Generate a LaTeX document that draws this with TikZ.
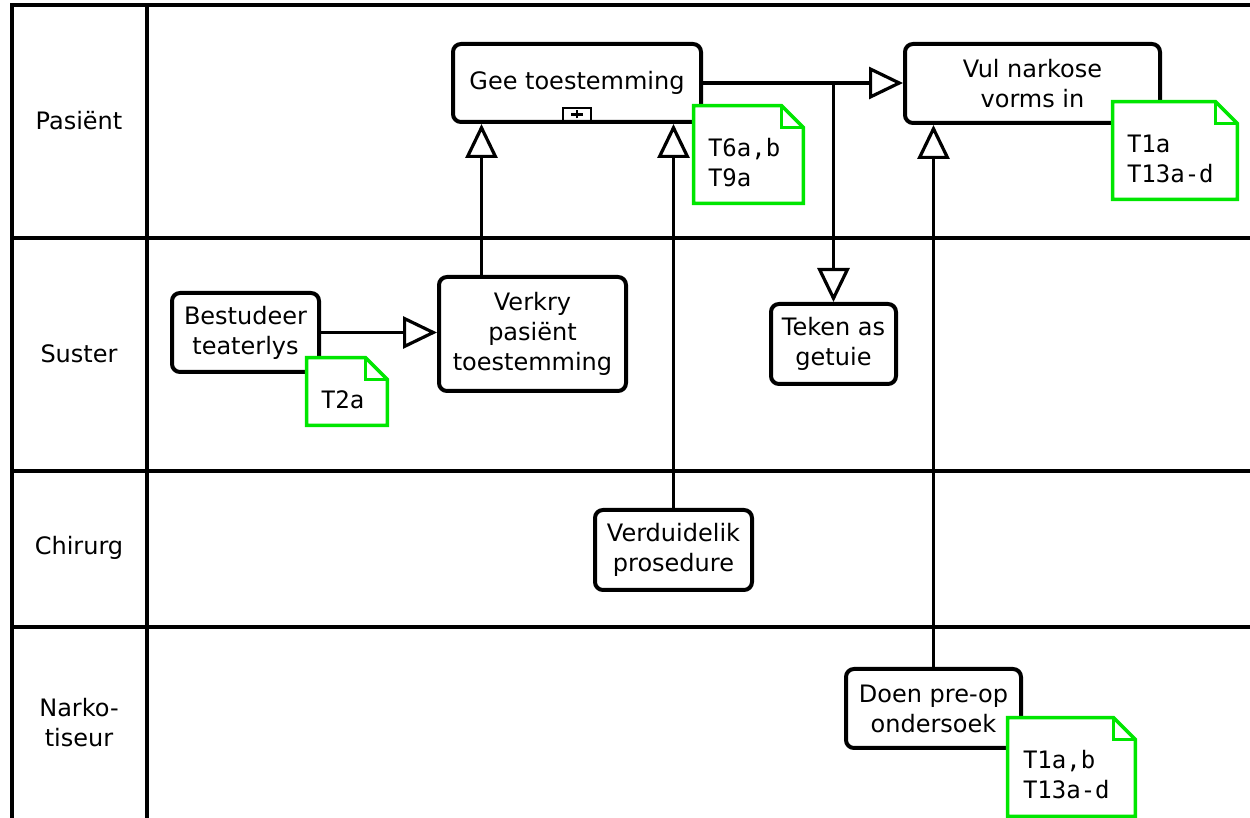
\documentclass[tikz,border=0pt]{standalone}
\usepackage{fontspec}
\setmainfont{DejaVu Sans}
\setmonofont{DejaVu Sans Mono}
\usepackage{tikz}
\usetikzlibrary{arrows.meta,positioning,calc}

\tikzset{
  lane/.style={line width=1.6pt},
  activity/.style={draw,line width=2pt,rounded corners=4pt,align=center,inner sep=0pt,fill=white},
  flow/.style={line width=1.6pt,-{Triangle[open,length=17pt,width=16pt,line width=1.6pt]}},
  notebox/.style={inner sep=0pt},
  notetext/.style={font=\fontsize{12}{15}\selectfont\ttfamily,align=left,inner sep=0pt,anchor=west},
  noteline/.style={draw={rgb,255:red,0;green,230;blue,0},line width=1.8pt,line join=miter}
}
% folded note round a named node
\newcommand\dogear[1]{%
  \draw[noteline,fill=white] (#1.south west) -- (#1.north west) -- ([xshift=-11pt]#1.north east)
    -- ([yshift=-11pt]#1.north east) -- (#1.south east) -- cycle;
  \draw[noteline] ([xshift=-11pt]#1.north east) |- ([yshift=-11pt]#1.north east);}

\begin{document}
\begin{tikzpicture}[x=0.5pt,y=-0.5pt,font=\fontsize{12}{15}\selectfont]
        \useasboundingbox (0,0) rectangle (1250,818);
        % lanes
        \draw[lane] (12,818) -- (12,5) -- (1250,5);
        \draw[lane] (147,5) -- (147,818);
        \draw[lane] (12,238) -- (1250,238);
        \draw[lane] (12,471) -- (1250,471);
        \draw[lane] (12,627) -- (1250,627);
        \node (pasient) at (79,121) {Pasiënt};
        \node (suster) at (79,354) {Suster};
        \node (chirurg) at (79,548) {Chirurg};
        \node[align=center] (narkotiseur) at (79,723) {Narko-\\tiseur};

        % activities
        \node[activity,minimum width=124pt,minimum height=39pt] (gee) at (577,83) {Gee toestemming};
        \node[activity,minimum width=127.5pt,minimum height=39.5pt] (vul) at (1032.5,83.5) {Vul narkose\\vorms in};
        \node[activity,minimum width=73.5pt,minimum height=39.5pt] (bestudeer) at (245.5,332.5) {Bestudeer\\teaterlys};
        \node[activity,minimum width=93.5pt,minimum height=57pt] (verkry) at (532.5,334) {Verkry\\pasiënt\\toestemming};
        \node[activity,minimum width=62.5pt,minimum height=40pt] (teken) at (833.5,344) {Teken as\\getuie};
        \node[activity,minimum width=78.5pt,minimum height=40pt] (verduidelik) at (673.5,550) {Verduidelik\\prosedure};
        \node[activity,minimum width=87.5pt,minimum height=39.5pt] (doen) at (933.5,708.5) {Doen pre-op\\ondersoek};
        % sub-process marker
        \node[draw,line width=1.4pt,minimum width=14pt,minimum height=6.5pt,inner sep=0pt,anchor=south] (sub) at ([yshift=0.8pt]gee.south) {};
        \draw[line width=1.2pt] ([xshift=-3pt]sub.center) -- ([xshift=3pt]sub.center)
          ([yshift=-2pt]sub.center) -- ([yshift=2pt]sub.center);

        % connectors
        \draw[flow] (bestudeer.east) -- (bestudeer.east -| verkry.west);
        \draw[flow] ([xshift=-25.5pt]verkry.north) -- ([xshift=-25.5pt]verkry.north |- gee.south);
        \draw[flow] (verduidelik.north) -- (verduidelik.north |- gee.south);
        \draw[flow] (gee.east) -- (gee.east -| vul.west);
        \coordinate (fork) at (gee.east -| teken.north);
        \draw[flow] (fork) -- (teken.north);
        \draw[flow] (doen.north) -- (doen.north |- vul.south);

        % notes
        \node[notebox,minimum width=54.5pt,minimum height=48.5pt] (n1) at (748.5,154.5) {};
        \dogear{n1}
        \node[notetext] (n1t) at ([xshift=7pt,yshift=-3.8pt]n1.west) {T6a,b\\T9a};
        \node[notebox,minimum width=62pt,minimum height=48.5pt] (n2) at (1175,150.5) {};
        \dogear{n2}
        \node[notetext] (n2t) at ([xshift=7pt,yshift=-4pt]n2.west) {T1a\\T13a-d};
        \node[notebox,minimum width=40pt,minimum height=33.5pt] (n3) at (347,391.5) {};
        \dogear{n3}
        \node[notetext] (n3t) at ([xshift=7pt,yshift=-4pt]n3.west) {T2a};
        \node[notebox,minimum width=63.5pt,minimum height=49pt] (n4) at (1071.5,767) {};
        \dogear{n4}
        \node[notetext] (n4t) at ([xshift=7.5pt,yshift=-3.8pt]n4.west) {T1a,b\\T13a-d};
\end{tikzpicture}
\end{document}
